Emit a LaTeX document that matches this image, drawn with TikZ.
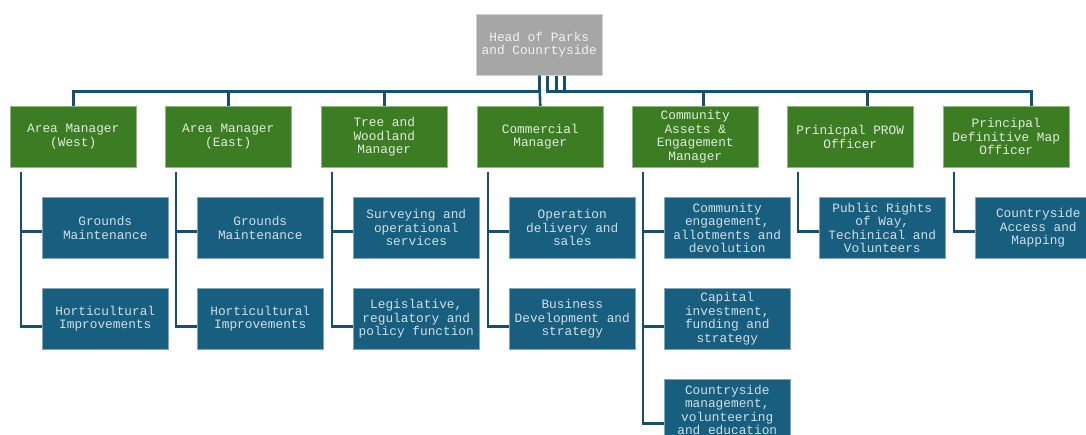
\documentclass[tikz,border=0pt]{standalone}
\usepackage{xcolor}
\usepackage{fontspec}
\setmonofont{Liberation Mono}
\usepackage{tikz}
\usetikzlibrary{positioning}

\definecolor{headgrey}{HTML}{A6A6A6}
\definecolor{mgrgreen}{HTML}{3C7D23}
\definecolor{teamblue}{HTML}{175E7F}
\definecolor{linkblue}{HTML}{16506E}

\begin{document}
\begin{tikzpicture}[x=1pt, y=-1pt,
	box/.style={anchor=north west, minimum width=126pt, minimum height=61pt,
		inner sep=0pt, align=center,
		font=\ttfamily\fontsize{12.8}{13.5}\selectfont},
	head/.style={box, fill=headgrey, draw=white!50!headgrey, line width=0.5pt, text=white!95!black},
	mgr/.style={box, fill=mgrgreen, draw=white!45!mgrgreen, line width=0.5pt, text=white!85!mgrgreen},
	team/.style={box, fill=teamblue, draw=white!45!teamblue, line width=0.5pt, text=white!80!teamblue},
	link/.style={draw=linkblue, line width=2.6pt}]
	\useasboundingbox (0,0) rectangle (1086,434);
	\coordinate (bar) at (0,91.5);

	% head and managers
	\node[head] (hd) at (476,14) {Head of Parks\\and Counrtyside};
	\node[mgr] (west) at (10,106) {Area Manager\\(West)};
	\node[mgr] (east) at (165,106) {Area Manager\\(East)};
	\node[mgr] (tree) at (321,106) {Tree and\\Woodland\\Manager};
	\node[mgr] (comm) at (477,106) {Commercial\\Manager};
	\node[mgr] (cae) at (632,106) {Community\\Assets \&\\Engagement\\Manager};
	\node[mgr] (prow) at (787,106) {Prinicpal PROW\\Officer};
	\node[mgr] (dmo) at (943,106) {Principal\\Definitive Map\\Officer};

	% teams
	\node[team] (west1) at (42,197) {Grounds\\Maintenance};
	\node[team] (west2) at (42,288) {Horticultural\\Improvements};
	\node[team] (east1) at (197,197) {Grounds\\Maintenance};
	\node[team] (east2) at (197,288) {Horticultural\\Improvements};
	\node[team] (tree1) at (353,197) {Surveying and\\operational\\services};
	\node[team] (tree2) at (353,288) {Legislative,\\regulatory and\\policy function};
	\node[team] (comm1) at (509,197) {Operation\\delivery and\\sales};
	\node[team] (comm2) at (509,288) {Business\\Development and\\strategy};
	\node[team] (cae1) at (664,197) {Community\\engagement,\\allotments and\\devolution};
	\node[team] (cae2) at (664,288) {Capital\\investment,\\funding and\\strategy};
	\node[team] (cae3) at (664,379) {Countryside\\management,\\volunteering\\and education};
	\node[team] (prow1) at (819,197) {Public Rights\\of Way,\\Techinical and\\Volunteers};
	\node[team] (dmo1) at (975,197) {Countryside\\Access and\\Mapping};

	% head to managers
	\draw[link] (hd.south) -- (hd.south |- bar) -| (west.north);
	\draw[link] (hd.south) -- (hd.south |- bar) -| (east.north);
	\draw[link] (hd.south) -- (hd.south |- bar) -| (tree.north);
	\draw[link] (hd.south) -- (comm.north);
	\draw[link] ([xshift=8.5pt]hd.south) -- ([xshift=8.5pt]hd.south |- bar) -| ([xshift=8.5pt]cae.north);
	\draw[link] ([xshift=17pt]hd.south) -- ([xshift=17pt]hd.south |- bar) -| ([xshift=17pt]prow.north);
	\draw[link] ([xshift=25.5pt]hd.south) -- ([xshift=25.5pt]hd.south |- bar) -| ([xshift=25.5pt]dmo.north);

	% managers to teams
	\draw[link] (west.south west) ++(11,4) |- ([yshift=-3.5pt]west1.west);
	\draw[link] (west.south west) ++(11,4) |- ([yshift=-8pt]west2.west);
	\draw[link] (east.south west) ++(11,4) |- ([yshift=-3.5pt]east1.west);
	\draw[link] (east.south west) ++(11,4) |- ([yshift=-8pt]east2.west);
	\draw[link] (tree.south west) ++(11,4) |- ([yshift=-3.5pt]tree1.west);
	\draw[link] (tree.south west) ++(11,4) |- ([yshift=-8pt]tree2.west);
	\draw[link] (comm.south west) ++(11,4) |- ([yshift=-3.5pt]comm1.west);
	\draw[link] (comm.south west) ++(11,4) |- ([yshift=-8pt]comm2.west);
	\draw[link] (cae.south west) ++(11,4) |- ([yshift=-3.5pt]cae1.west);
	\draw[link] (cae.south west) ++(11,4) |- ([yshift=-8pt]cae2.west);
	\draw[link] (cae.south west) ++(11,4) |- ([yshift=-13.5pt]cae3.west);
	\draw[link] (prow.south west) ++(11,4) |- ([yshift=-3.5pt]prow1.west);
	\draw[link] (dmo.south west) ++(11,4) |- ([yshift=-3.5pt]dmo1.west);
\end{tikzpicture}
\end{document}
